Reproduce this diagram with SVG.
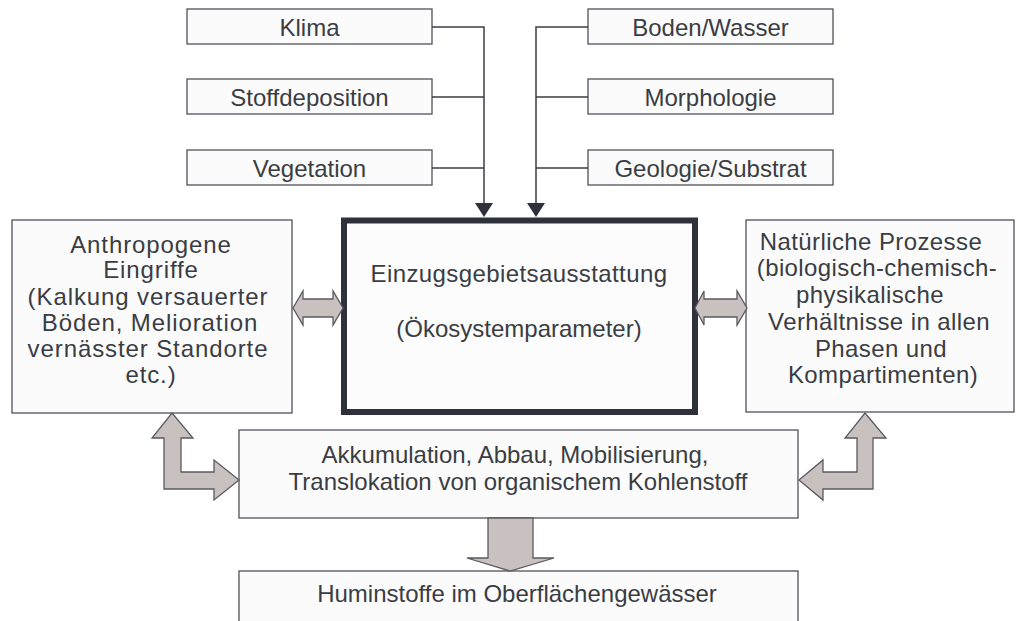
<svg xmlns="http://www.w3.org/2000/svg" width="1016" height="621" viewBox="0 0 1016 621">
<style>
.box{fill:#fbfbfb;stroke:#4f525a;stroke-width:1.3}
.main{fill:#fcfcfc;stroke:#2e313a;stroke-width:6}
.t{font-family:"Liberation Sans",Arial,sans-serif;font-size:24px;fill:#3a3d44;text-anchor:middle}
.tl{font-family:"Liberation Sans",Arial,sans-serif;font-size:24px;fill:#3a3d44;text-anchor:middle;letter-spacing:0.9px}
.tr{font-family:"Liberation Sans",Arial,sans-serif;font-size:24px;fill:#3a3d44;text-anchor:middle;letter-spacing:0.4px}
.ln{fill:none;stroke:#3b3e46;stroke-width:1.5}
.blk{fill:#c9c1bf;stroke:#5a5a62;stroke-width:1.3;stroke-linejoin:miter}
.ah{fill:#2e313a}
</style>
<g id="klima"><rect class="box" x="187" y="9" width="245" height="35"/><text class="t" x="309.5" y="36">Klima</text></g>
<g id="stoffdeposition"><rect class="box" x="187" y="79" width="245" height="35"/><text class="t" x="309.5" y="106">Stoffdeposition</text></g>
<g id="vegetation"><rect class="box" x="187" y="150" width="245" height="35"/><text class="t" x="309.5" y="177">Vegetation</text></g>
<g id="boden"><rect class="box" x="588" y="9" width="245" height="35"/><text class="t" x="710.5" y="36">Boden/Wasser</text></g>
<g id="morphologie"><rect class="box" x="588" y="79" width="245" height="35"/><text class="t" x="710.5" y="106">Morphologie</text></g>
<g id="geologie"><rect class="box" x="588" y="150" width="245" height="35"/><text class="t" x="710.5" y="177">Geologie/Substrat</text></g>
<g id="einzugsgebiet"><rect class="main" x="344" y="220.5" width="351" height="191.5"/>
<text class="t" x="519" y="282" letter-spacing="0.4">Einzugsgebietsausstattung</text>
<text class="t" x="519" y="337">(Ökosystemparameter)</text></g>
<g id="anthropogen"><rect class="box" x="12" y="220" width="280" height="193"/>
<text class="tl" x="151" y="253">Anthropogene</text>
<text class="tl" x="151" y="278">Eingriffe</text>
<text class="tl" x="148" y="305">(Kalkung versauerter</text>
<text class="tl" x="150" y="331">Böden, Melioration</text>
<text class="tl" x="148" y="357">vernässter Standorte</text>
<text class="tl" x="151" y="383">etc.)</text></g>
<g id="natuerlich"><rect class="box" x="746" y="220" width="268" height="192"/>
<text class="tr" x="871" y="250">Natürliche Prozesse</text>
<text class="tr" x="877" y="276">(biologisch-chemisch-</text>
<text class="tr" x="870" y="303">physikalische</text>
<text class="tr" x="879" y="330">Verhältnisse in allen</text>
<text class="tr" x="881" y="357">Phasen und</text>
<text class="tr" x="883" y="383">Kompartimenten)</text></g>
<g id="akkumulation"><rect class="box" x="239" y="430" width="559" height="88"/>
<text class="t" x="515" y="463">Akkumulation, Abbau, Mobilisierung,</text>
<text class="t" x="518" y="490">Translokation von organischem Kohlenstoff</text></g>
<g id="huminstoffe"><rect class="box" x="239" y="571" width="559" height="60"/>
<text class="t" x="517" y="602">Huminstoffe im Oberflächengewässer</text></g>
<g id="connectors">
<path class="ln" d="M432,27 H484 V203 M432,97 H484 M432,168 H484"/>
<path class="ln" d="M588,27 H536 V203 M588,97 H536 M588,168 H536"/>
<path class="ah" d="M475,203 L493,203 L484,217 Z"/>
<path class="ah" d="M527,203 L545,203 L536,217 Z"/>
<polygon class="blk" points="293,308 303,291 303,299 333,299 333,291 343,308 333,325 333,317 303,317 303,325"/>
<polygon class="blk" points="695,308 704,291 704,299 737,299 737,291 747,308 737,325 737,317 704,317 704,325"/>
<polygon class="blk" points="172,413 193,438 181,438 181,472 214,472 214,460 239,480 214,500 214,489 164,489 164,438 152,438"/>
<polygon class="blk" points="865,413 886,438 873,438 873,489 823,489 823,500 799,480 823,460 823,472 857,472 857,438 845,438"/>
<polygon class="blk" points="488,518 533,518 533,558 554,558 510,571 467,558 488,558"/>
</g>
</svg>
